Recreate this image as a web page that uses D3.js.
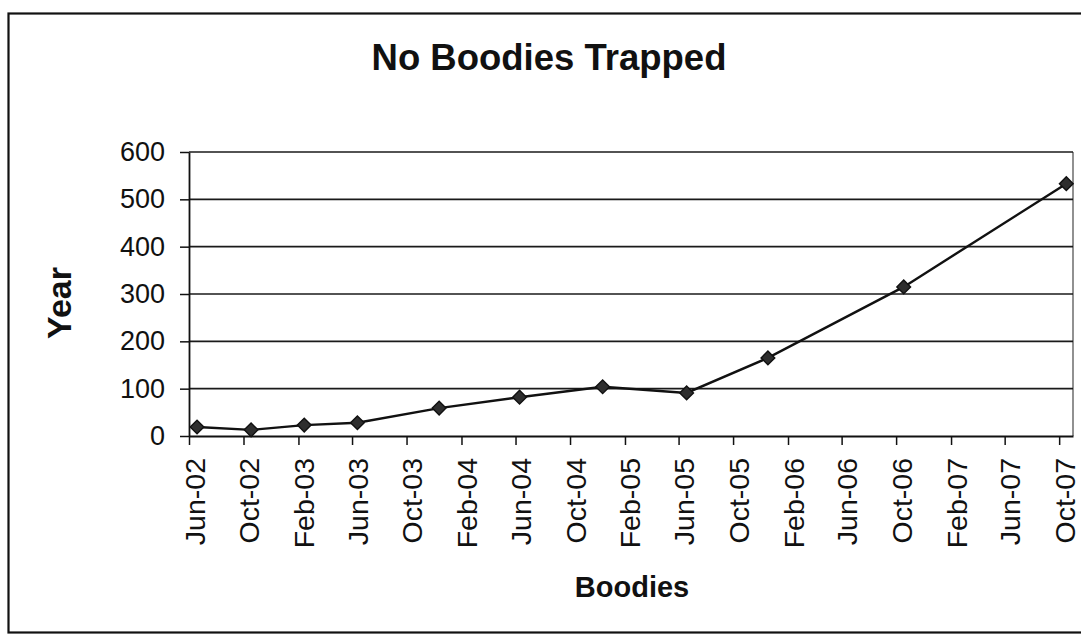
<!DOCTYPE html>
<html>
<head>
<meta charset="utf-8">
<script src="https://cdn.jsdelivr.net/npm/d3@7"></script>
<style>
  html, body { margin: 0; padding: 0; background: #fff; }
  svg { display: block; font-family: "Liberation Sans", Arial, sans-serif; }
</style>
</head>
<body>
<svg id="chart" width="1081" height="639"></svg>
<script>
// ---- data ----
const surveyDates = ["2002-06-19", "2002-10-18", "2003-02-14", "2003-06-13", "2003-12-13",
                     "2004-06-10", "2004-12-13", "2005-06-19", "2005-12-18", "2006-10-18", "2007-10-17"];
const boodiesTrapped = [19, 13, 23, 28, 59, 82, 104, 91, 165, 315, 533];
const xTickLabels = ["Jun-02", "Oct-02", "Feb-03", "Jun-03", "Oct-03", "Feb-04", "Jun-04", "Oct-04",
                     "Feb-05", "Jun-05", "Oct-05", "Feb-06", "Jun-06", "Oct-06", "Feb-07", "Jun-07", "Oct-07"];
const yTickValues = [0, 100, 200, 300, 400, 500, 600];
const xDomain = ["2002-06-01", "2007-11-01"];
const chartTitle = "No Boodies Trapped";
const xTitle = "Boodies";
const yTitle = "Year";

// ---- layout ----
const parseISO = d3.timeParse("%Y-%m-%d");
const parseTick = d3.timeParse("%b-%y");
const fmtTick = d3.timeFormat("%b-%y");
const plot = { left: 189, right: 1073, top: 152, bottom: 436 };

const svg = d3.select("#chart");

const x = d3.scaleTime()
  .domain(xDomain.map(parseISO))
  .range([plot.left, plot.right]);
const y = d3.scaleLinear()
  .domain([0, 600])
  .range([plot.bottom, plot.top]);

// outer frame (right edge runs off the picture, as in the scan)
svg.append("rect")
  .attr("x", 8.5).attr("y", 13.5)
  .attr("width", 1090).attr("height", 619)
  .attr("fill", "#fff")
  .attr("stroke", "#111").attr("stroke-width", 2.2);

// plot area border (right side)
svg.append("line")
  .attr("x1", plot.right).attr("x2", plot.right)
  .attr("y1", plot.top).attr("y2", plot.bottom)
  .attr("stroke", "#555").attr("stroke-width", 1.3);

// gridlines
svg.append("g")
  .selectAll("line")
  .data(yTickValues.filter(v => v > 0))
  .join("line")
  .attr("x1", plot.left).attr("x2", plot.right)
  .attr("y1", d => y(d)).attr("y2", d => y(d))
  .attr("stroke", "#1a1a1a").attr("stroke-width", 1.6);

// y axis
const yAxis = svg.append("g")
  .attr("transform", `translate(${plot.left},0)`)
  .call(d3.axisLeft(y).tickValues(yTickValues).tickSize(9).tickPadding(15).tickSizeOuter(0));
yAxis.select(".domain").attr("stroke", "#111").attr("stroke-width", 1.8);
yAxis.selectAll(".tick line").attr("stroke", "#111").attr("stroke-width", 1.5);
yAxis.selectAll(".tick text")
  .attr("font-size", 27).attr("fill", "#111")
  .attr("font-family", "'Liberation Sans', Arial, sans-serif");

// x axis
const xTicks = xTickLabels.map(parseTick);
const xAxis = svg.append("g")
  .attr("transform", `translate(0,${plot.bottom})`)
  .call(d3.axisBottom(x).tickValues(xTicks).tickFormat(fmtTick).tickSize(9).tickSizeOuter(0));
xAxis.select(".domain").attr("stroke", "#111").attr("stroke-width", 1.8);
xAxis.selectAll(".tick line").attr("stroke", "#111").attr("stroke-width", 1.5);
xAxis.selectAll(".tick text")
  .attr("font-size", 28.5).attr("fill", "#111")
  .attr("font-family", "'Liberation Sans', Arial, sans-serif")
  .attr("text-anchor", "end")
  .attr("y", 0).attr("dy", 0)
  .attr("transform", "translate(15,22) rotate(-90)");

// series
const pts = surveyDates.map((d, i) => ({ date: parseISO(d), value: boodiesTrapped[i] }));
svg.append("path")
  .datum(pts)
  .attr("fill", "none")
  .attr("stroke", "#111")
  .attr("stroke-width", 2.4)
  .attr("d", d3.line().x(d => x(d.date)).y(d => y(d.value)));

svg.append("g")
  .selectAll("path")
  .data(pts)
  .join("path")
  .attr("transform", d => `translate(${x(d.date)},${y(d.value)})`)
  .attr("d", d3.symbol(d3.symbolDiamond2, 120))
  .attr("fill", "#2e2e2e")
  .attr("stroke", "#111")
  .attr("stroke-width", 1.4);

// titles
svg.append("text")
  .attr("x", 549).attr("y", 70)
  .attr("text-anchor", "middle")
  .attr("font-size", 36.5).attr("font-weight", "bold").attr("fill", "#111")
  .text(chartTitle);

svg.append("text")
  .attr("x", 632).attr("y", 597)
  .attr("text-anchor", "middle")
  .attr("font-size", 29).attr("font-weight", "bold").attr("fill", "#111")
  .text(xTitle);

svg.append("text")
  .attr("transform", "translate(71,303) rotate(-90)")
  .attr("text-anchor", "middle")
  .attr("font-size", 34).attr("font-weight", "bold").attr("fill", "#111")
  .text(yTitle);
</script>
</body>
</html>
